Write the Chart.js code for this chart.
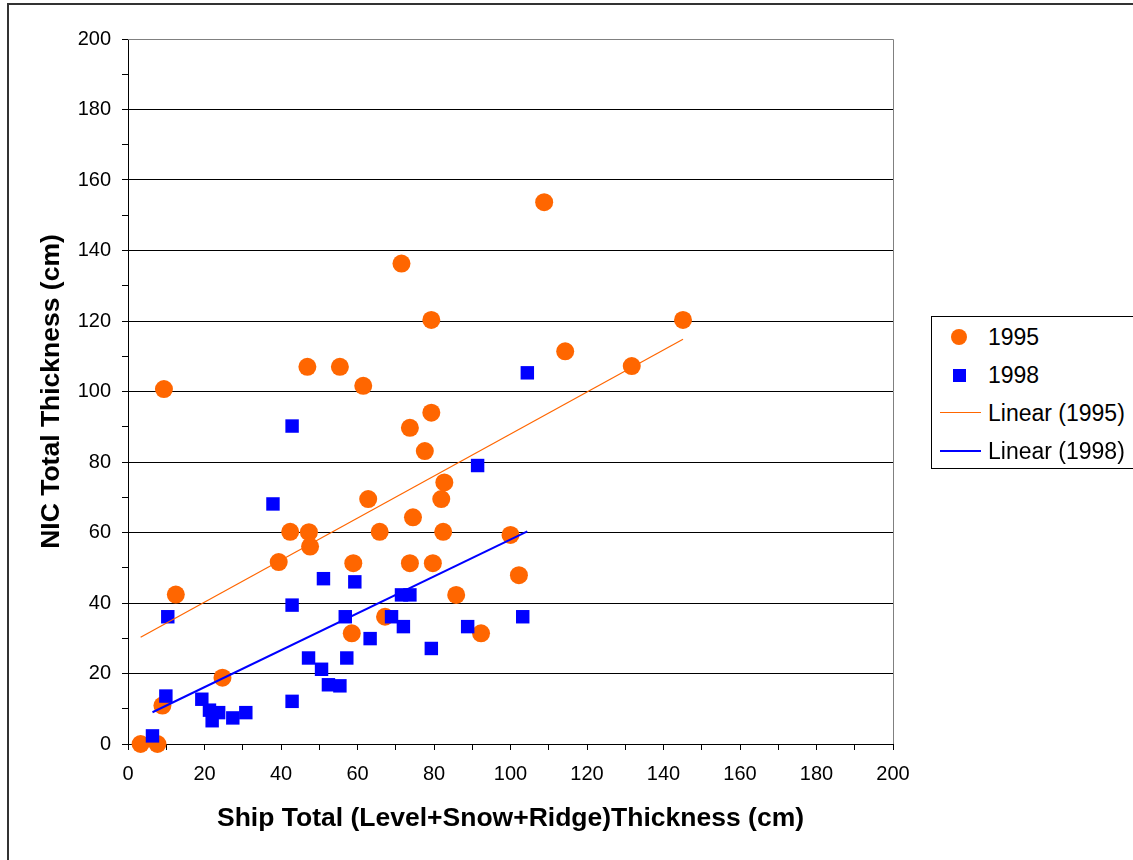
<!DOCTYPE html>
<html>
<head>
<meta charset="utf-8">
<script src="https://cdn.jsdelivr.net/npm/chart.js@4"></script>
<style>
    body { margin: 0; background: #fff; overflow: hidden; }
    #wrap { position: relative; width: 1133px; height: 860px; overflow: hidden; }
    #frame { position: absolute; left: 7px; top: 3px; width: 1300px; height: 1000px; border: 2px solid #333; }
    #chart { position: absolute; left: 0; top: 0; }
    #legend {
        position: absolute; left: 931px; top: 316px; width: 240px; height: 151px;
        border: 1px solid #000; background: #fff;
        font-family: 'Liberation Sans', Arial, sans-serif; font-size: 23px; color: #000;
    }
    .row { position: absolute; left: 0; height: 38px; width: 240px; }
    .row span.txt { position: absolute; left: 56px; top: 0; line-height: 38px; }
    .dot { position: absolute; left: 19px; top: 11px; width: 16px; height: 16px; border-radius: 50%; background: #ff6600; }
    .sq { position: absolute; left: 21px; top: 13px; width: 13px; height: 13px; background: #0000ff; }
    .ln { position: absolute; left: 8px; width: 41px; }
</style>
</head>
<body>
<div id="wrap">
    <div id="frame"></div>
    <canvas id="chart" width="1133" height="860"></canvas>
    <div id="legend">
        <div class="row" style="top:1px"><div class="dot"></div><span class="txt">1995</span></div>
        <div class="row" style="top:39px"><div class="sq"></div><span class="txt">1998</span></div>
        <div class="row" style="top:77px"><div class="ln" style="top:18px;height:1px;background:#ff6600"></div><span class="txt">Linear (1995)</span></div>
        <div class="row" style="top:115px"><div class="ln" style="top:18px;height:2px;background:#0000ff"></div><span class="txt">Linear (1998)</span></div>
    </div>
</div>
<script>
// 1995 ship vs NIC thickness (cm)
const xs1995 = [3.3, 7.7, 9.0, 9.4, 12.5, 24.7, 39.4, 42.4, 46.9, 47.3, 47.6, 55.4, 58.5, 58.9, 61.5, 62.8, 65.8, 67.2, 71.5, 73.7, 73.7, 74.5, 77.6, 79.3, 79.3, 79.7, 81.9, 82.4, 82.7, 85.8, 92.3, 100.0, 102.2, 108.8, 114.3, 131.7, 145.1];
const ys1995 = [0, 0, 10.9, 100.7, 42.4, 18.8, 51.6, 60.2, 107.0, 60.1, 56.0, 107.0, 31.4, 51.3, 101.6, 69.5, 60.2, 36.1, 136.3, 89.7, 51.3, 64.3, 83.1, 120.3, 94.0, 51.3, 69.5, 60.2, 74.2, 42.3, 31.4, 59.3, 47.9, 153.7, 111.4, 107.2, 120.3];

// 1998
const xs1998 = [6.4, 9.9, 10.4, 19.3, 21.3, 22.0, 23.7, 27.4, 30.8, 37.9, 42.9, 42.9, 42.9, 47.2, 50.6, 51.1, 52.4, 55.4, 56.8, 57.2, 59.3, 63.3, 68.9, 71.5, 73.7, 72.0, 79.3, 88.8, 91.4, 103.2, 104.4];
const ys1998 = [2.3, 13.6, 36.1, 12.7, 9.6, 6.6, 8.9, 7.4, 8.9, 68.1, 90.2, 39.4, 12.1, 24.4, 21.2, 46.9, 16.8, 16.5, 36.1, 24.4, 46.0, 29.9, 36.1, 42.3, 42.3, 33.3, 27.1, 33.3, 79.0, 36.1, 105.3];

// linear trendline end points
const trend1995X = [3.3, 145.1];
const trend1995Y = [30.3, 114.8];
const trend1998X = [6.4, 104.4];
const trend1998Y = [9.0, 60.3];

const FONT = "'Liberation Sans', Arial, sans-serif";

function toPoints(xs, ys) {
    return xs.map((x, i) => ({ x: x, y: ys[i] }));
}

// gray top/right edge of the plot area
const plotEdge = {
    id: 'plotEdge',
    afterDatasetsDraw(chart) {
        const { ctx, chartArea } = chart;
        ctx.save();
        ctx.strokeStyle = '#808080';
        ctx.lineWidth = 1;
        ctx.beginPath();
        ctx.moveTo(chartArea.left, chartArea.top + 0.5);
        ctx.lineTo(chartArea.right + 0.5, chartArea.top + 0.5);
        ctx.lineTo(chartArea.right + 0.5, chartArea.bottom);
        ctx.stroke();
        ctx.restore();
    }
};

new Chart(document.getElementById('chart'), {
    type: 'scatter',
    data: {
        datasets: [
            {
                label: 'Linear (1995)',
                data: toPoints(trend1995X, trend1995Y),
                showLine: true,
                borderColor: '#ff6600',
                borderWidth: 1.2,
                pointRadius: 0,
                order: 0
            },
            {
                label: 'Linear (1998)',
                data: toPoints(trend1998X, trend1998Y),
                showLine: true,
                borderColor: '#0000ff',
                borderWidth: 2,
                pointRadius: 0,
                order: 0
            },
            {
                label: '1998',
                data: toPoints(xs1998, ys1998),
                pointStyle: 'rect',
                pointRadius: 9.5,
                backgroundColor: '#0000ff',
                borderWidth: 0,
                clip: false,
                order: 1
            },
            {
                label: '1995',
                data: toPoints(xs1995, ys1995),
                pointStyle: 'circle',
                pointRadius: 9,
                backgroundColor: '#ff6600',
                borderWidth: 0,
                clip: false,
                order: 2
            }
        ]
    },
    options: {
        responsive: false,
        animation: false,
        layout: { padding: { left: 0, top: 39, right: 240, bottom: 0 } },
        plugins: {
            legend: { display: false },
            tooltip: { enabled: false }
        },
        scales: {
            x: {
                type: 'linear',
                min: 0,
                max: 200,
                afterFit: function(scale) { scale.height = 116; },
                border: { color: '#000', width: 1 },
                grid: {
                    drawOnChartArea: false,
                    tickLength: 6,
                    tickColor: '#000'
                },
                ticks: {
                    stepSize: 10,
                    autoSkip: false,
                    maxRotation: 0,
                    padding: 12,
                    color: '#000',
                    font: { family: FONT, size: 20 },
                    callback: v => (v % 20 === 0 ? v : '')
                },
                title: {
                    display: true,
                    text: 'Ship Total (Level+Snow+Ridge)Thickness (cm)',
                    color: '#000',
                    font: { family: FONT, size: 26.5, weight: 'bold' },
                    padding: { top: 0, bottom: 25 }
                }
            },
            y: {
                min: 0,
                max: 200,
                afterFit: function(scale) { scale.width = 128; },
                border: { color: '#000', width: 1 },
                grid: {
                    color: ctx => {
                        const v = ctx.tick ? ctx.tick.value : 0;
                        if (v === 200) return '#808080';
                        return (v % 20 === 0 && v !== 0) ? '#000' : 'rgba(0,0,0,0)';
                    },
                    tickLength: 6,
                    tickColor: '#000'
                },
                ticks: {
                    stepSize: 10,
                    autoSkip: false,
                    padding: 11,
                    color: '#000',
                    font: { family: FONT, size: 20 },
                    callback: v => (v % 20 === 0 ? v : '')
                },
                title: {
                    display: true,
                    text: 'NIC Total Thickness (cm)',
                    color: '#000',
                    font: { family: FONT, size: 26.5, weight: 'bold' },
                    padding: { top: 36, bottom: 0 }
                }
            }
        }
    },
    plugins: [plotEdge]
});
</script>
</body>
</html>
